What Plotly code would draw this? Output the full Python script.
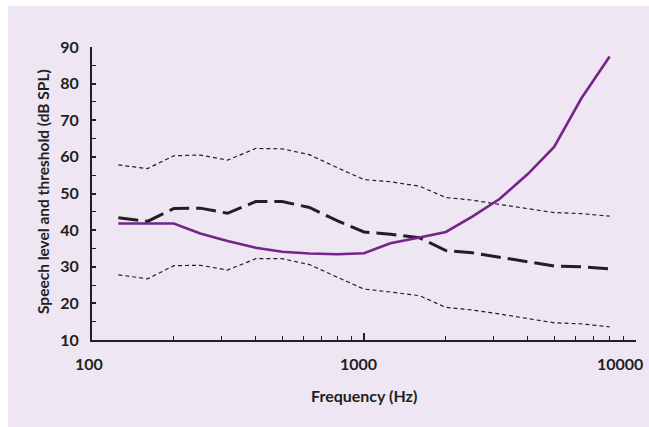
import numpy as np
import plotly.graph_objects as go

# One-third-octave band centre frequencies (Hz)
freq = [125, 160, 200, 250, 315, 400, 500, 630, 800, 1000,
        1250, 1600, 2000, 2500, 3150, 4000, 5000, 6300, 8000]

# Long-term average speech level and its upper / lower limits (dB SPL)
speech_mean = [43.4, 42.4, 45.9, 46.0, 44.6, 47.8, 47.8, 46.2, 42.5, 39.5,
               38.9, 37.9, 34.4, 33.8, 32.6, 31.4, 30.2, 30.0, 29.4]
speech_upper = [57.8, 56.8, 60.3, 60.5, 59.1, 62.3, 62.2, 60.6, 57.0, 53.8,
                53.2, 52.0, 48.9, 48.2, 47.0, 45.9, 44.8, 44.5, 43.8]
speech_lower = [27.8, 26.7, 30.3, 30.4, 29.1, 32.2, 32.2, 30.6, 27.1, 23.9,
                23.1, 22.1, 18.9, 18.2, 17.1, 15.9, 14.7, 14.4, 13.6]

# Hearing threshold (dB SPL)
threshold = [41.8, 41.8, 41.8, 39.1, 37.0, 35.2, 34.1, 33.6, 33.4, 33.7,
             36.4, 38.0, 39.5, 43.7, 48.5, 55.3, 62.7, 76.0, 87.4]

x_ticks = [100, 1000, 10000]
x_minor = [200, 300, 400, 500, 600, 700, 800, 900,
           2000, 3000, 4000, 5000, 6000, 7000, 8000, 9000]
y_ticks = [10, 20, 30, 40, 50, 60, 70, 80, 90]
y_minor = [15, 25, 35, 45, 55, 65, 75, 85]

x_title = "Frequency (Hz)"
y_title = "Speech level and threshold (dB SPL)"

INK = "#231f20"
PURPLE = "#76248a"
BG = "#eee6f2"
FONT = "Lato"

fig = go.Figure()

for series in (speech_upper, speech_lower):
    fig.add_trace(go.Scatter(x=freq, y=series, mode="lines",
                             line=dict(color=INK, width=1.2, dash="4px,3px"),
                             hoverinfo="skip"))

fig.add_trace(go.Scatter(x=freq, y=speech_mean, mode="lines",
                         line=dict(color=INK, width=3, dash="20px,7px"),
                         hoverinfo="skip"))

fig.add_trace(go.Scatter(x=freq, y=threshold, mode="lines",
                         line=dict(color=PURPLE, width=2.6),
                         hoverinfo="skip"))

L, R, T, B = 92, 13, 47, 87
W, H = 649, 427
pw, ph = W - L - R, H - T - B
x0_px = L              # pixel column of the plot's left edge
y0_px = H - B          # pixel row of the plot's bottom edge

# lavender panel behind everything (pixel box 8..649 x 6..427)
fig.add_shape(type="rect", xref="paper", yref="paper", layer="below",
              x0=(8 - x0_px) / pw, x1=(W + 5 - x0_px) / pw,
              y0=(y0_px - H - 5) / ph, y1=(y0_px - 6) / ph,
              fillcolor=BG, line=dict(width=0))

tick_font = dict(family=FONT, size=16, color=INK, weight="bold")
x_title_font = dict(family=FONT, size=16, color=INK, weight="bold")
y_title_font = dict(family=FONT, size=15.5, color=INK, weight="bold")

annotations = []
# x tick labels
shifts = {100: (-3, "center"), 1000: (-6, "center"), 10000: (9, "right")}
for v in x_ticks:
    dx, anchor = shifts[v]
    annotations.append(dict(x=np.log10(v), y=0, xref="x", yref="paper",
                            text=str(v), showarrow=False, xanchor=anchor,
                            yanchor="middle", xshift=dx, yshift=-23,
                            font=tick_font))
annotations.append(dict(x=0.5, y=(y0_px - 395) / ph, xref="paper", yref="paper",
                        text=x_title, showarrow=False, xanchor="center", yanchor="middle",
                        font=x_title_font))
annotations.append(dict(x=(43 - x0_px) / pw, y=(y0_px - 192) / ph, xref="paper", yref="paper",
                        text=y_title, showarrow=False, textangle=-90,
                        xanchor="center", yanchor="middle",
                        font=y_title_font))

fig.update_layout(
    width=W, height=H,
    margin=dict(l=L, r=R, t=T, b=B, autoexpand=False),
    paper_bgcolor="white", plot_bgcolor=BG,
    showlegend=False,
    annotations=annotations,
    xaxis=dict(type="log", range=[2, 4], showgrid=False, zeroline=False,
               showline=True, linecolor=INK, linewidth=2,
               tickvals=x_ticks, ticks="inside", ticklen=7, tickwidth=1.5,
               tickcolor=INK, showticklabels=False,
               minor=dict(tickvals=x_minor, ticks="inside", ticklen=4,
                          tickwidth=1.2, tickcolor=INK)),
    yaxis=dict(range=[10, 90], showgrid=False, zeroline=False,
               showline=True, linecolor=INK, linewidth=2,
               tickvals=y_ticks, ticks="inside", ticklen=4, tickwidth=1.5,
               tickcolor=INK, ticklabelstandoff=8,
               tickfont=tick_font,
               minor=dict(tickvals=y_minor, ticks="inside", ticklen=4,
                          tickwidth=1.2, tickcolor=INK)),
)

fig.write_html("out.html", config={"displayModeBar": False})
